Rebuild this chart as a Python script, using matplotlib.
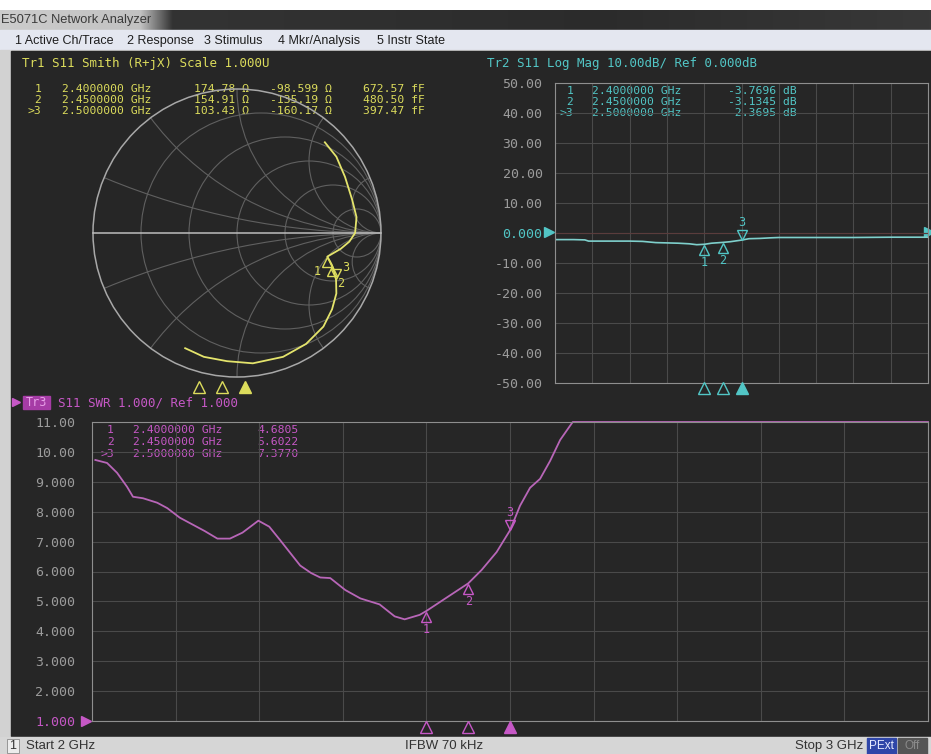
import numpy as np
import matplotlib.pyplot as plt
from matplotlib.patches import Rectangle, Circle
from matplotlib.transforms import offset_copy

W, H = 931, 754
MONO = 'DejaVu Sans Mono'
SANS = 'Liberation Sans'
NARROW = ['Liberation Sans Narrow', 'Liberation Sans']

BG = '#262626'
GRID = '#4a4a4a'
SGRID = '#606060'
FRAME = '#8e8e8e'
TICK = '#9c9c9c'
YEL = '#dcdc5c'
CYA = '#52c6c6'
MAG = '#c658c6'
FS = 8.2

# marker readouts (1, 2, >3)
mkr_freq = [2.40, 2.45, 2.50]
mkr_res = [174.78, 154.91, 103.43]
mkr_reac = [-98.599, -135.19, -160.17]
mkr_cap = [672.57, 480.50, 397.47]
mkr_db = [-3.7696, -3.1345, -2.3695]
mkr_swr = [4.6805, 5.6022, 7.3770]
z0 = 50.0

# Tr1 smith trace as reflection coefficient
smith_re = [0.61, 0.69, 0.75, 0.80, 0.83, 0.82, 0.78, 0.72, 0.66, 0.627, 0.645,
            0.660, 0.675, 0.688, 0.69, 0.66, 0.60, 0.48, 0.32, 0.11, -0.07, -0.23, -0.36]
smith_im = [0.63, 0.53, 0.39, 0.23, 0.11, 0.0, -0.06, -0.11, -0.145, -0.164, -0.195,
            -0.224, -0.27, -0.326, -0.42, -0.53, -0.65, -0.77, -0.86, -0.905, -0.89, -0.86, -0.80]

# Tr2 log mag trace
lm_freq = [2.00, 2.05, 2.08, 2.09, 2.15, 2.20, 2.235, 2.27, 2.30, 2.33, 2.36, 2.38,
           2.40, 2.42, 2.45, 2.47, 2.50, 2.52, 2.55, 2.58, 2.60, 2.70, 2.80, 2.90, 3.00]
lm_db = [-2.2, -2.2, -2.3, -2.7, -2.7, -2.7, -2.8, -3.2, -3.3, -3.4, -3.6, -3.9,
         -3.77, -3.4, -3.13, -2.9, -2.37, -1.9, -1.8, -1.6, -1.5, -1.5, -1.5, -1.4, -1.4]

# Tr3 SWR trace
swr_freq = [2.004, 2.018, 2.030, 2.042, 2.049, 2.061, 2.078, 2.090, 2.105, 2.121,
            2.135, 2.150, 2.165, 2.180, 2.199, 2.212, 2.225, 2.249, 2.262, 2.273,
            2.285, 2.303, 2.321, 2.344, 2.362, 2.374, 2.392, 2.400, 2.420, 2.450,
            2.466, 2.484, 2.500, 2.512, 2.524, 2.536, 2.548, 2.560, 2.575, 2.600, 3.000]
swr_val = [9.73, 9.63, 9.3, 8.83, 8.5, 8.45, 8.3, 8.12, 7.8, 7.56,
           7.35, 7.1, 7.1, 7.3, 7.7, 7.5, 7.05, 6.2, 5.95, 5.8,
           5.78, 5.38, 5.1, 4.9, 4.5, 4.4, 4.55, 4.6805, 5.05, 5.6022,
           6.05, 6.65, 7.377, 8.2, 8.8, 9.1, 9.7, 10.4, 11.0, 11.0, 11.0]

lm_ticks = [50, 40, 30, 20, 10, 0, -10, -20, -30, -40, -50]
lm_labels = ['50.00', '40.00', '30.00', '20.00', '10.00', '0.000',
             '-10.00', '-20.00', '-30.00', '-40.00', '-50.00']
swr_ticks = [11, 10, 9, 8, 7, 6, 5, 4, 3, 2, 1]
swr_labels = ['11.00', '10.00', '9.000', '8.000', '7.000', '6.000',
              '5.000', '4.000', '3.000', '2.000', '1.000']

menu_items = ['1 Active Ch/Trace', '2 Response', '3 Stimulus', '4 Mkr/Analysis', '5 Instr State']
menu_x = [15, 127, 204, 278, 377]

fig = plt.figure(figsize=(W / 100, H / 100), dpi=100, facecolor='white')
bg = fig.add_axes([0, 0, 1, 1])
bg.axis('off')

# window chrome
cols = np.arange(W)
shade = np.interp(cols, [0, 140, 172, 600, W], [0.80, 0.76, 0.20, 0.17, 0.22])
bg.imshow(np.dstack([shade, shade, shade]), extent=(0, W, 30, 10), aspect='auto')
bg.add_patch(Rectangle((0, 30), W, 20, color='#e4e7f0'))
bg.add_patch(Rectangle((0, 50), W, 687, color='#d2d2d2'))
bg.add_patch(Rectangle((11, 51), W - 11, 685, color=BG))
bg.add_patch(Rectangle((0, 737), W, 17, color='#d6d6d6'))
bg.text(1, 20, 'E5071C Network Analyzer', family=SANS, size=9.3, color='#3a3a3a', va='center')
for t, x in zip(menu_items, menu_x):
    bg.text(x, 41, t, family=SANS, size=9.0, color='#1e1e1e', va='center')

# status bar
bg.add_patch(Rectangle((7, 739), 12, 14, fc='#ececec', ec='#8a8a8a', lw=0.6))
bg.text(13, 746, '1', family=NARROW, size=9, color='#333333', ha='center', va='center')
bg.text(26, 746, 'Start 2 GHz', family=NARROW, size=9.5, color='#333333', va='center')
bg.text(444, 746, 'IFBW 70 kHz', family=NARROW, size=9.5, color='#333333', va='center', ha='center')
bg.text(863, 746, 'Stop 3 GHz', family=NARROW, size=9.5, color='#333333', va='center', ha='right')
bg.add_patch(Rectangle((867, 738), 29, 16, color='#2f46a8'))
bg.text(881.5, 746, 'PExt', family=NARROW, size=8.5, color='#e8ecff', va='center', ha='center')
bg.add_patch(Rectangle((898, 738), 29, 16, color='#555555'))
bg.text(912.5, 746, 'Off', family=NARROW, size=8.5, color='#8a8a8a', va='center', ha='center')

# trace headers
bg.text(22, 63, 'Tr1 S11 Smith (R+jX) Scale 1.000U', family=MONO, size=9, color=YEL, va='center')
bg.text(487, 64, 'Tr2 S11 Log Mag 10.00dB/ Ref 0.000dB', family=MONO, size=9, color=CYA, va='center')
bg.plot(16, 402, marker='>', ms=6, color=MAG)
bg.add_patch(Rectangle((23, 396), 27, 13, color='#a63ca6'))
bg.text(36.5, 402.5, 'Tr3', family=MONO, size=8.5, color='#e8a0e8', va='center', ha='center')
bg.text(58, 403, 'S11 SWR 1.000/ Ref 1.000', family=MONO, size=9, color=MAG, va='center')

# marker readout tables
names = ['1', '2', '>3']
for i in range(3):
    y = [88.5, 100, 111.5][i]
    bg.text(41, y, names[i], family=MONO, size=FS, color=YEL, va='center', ha='right')
    bg.text(62, y, f'{mkr_freq[i]:.7f} GHz', family=MONO, size=FS, color=YEL, va='center')
    bg.text(249, y, f'{mkr_res[i]:.2f} \u03a9', family=MONO, size=FS, color=YEL, va='center', ha='right')
    bg.text(332, y, f'{mkr_reac[i]:.5g} \u03a9', family=MONO, size=FS, color=YEL, va='center', ha='right')
    bg.text(425, y, f'{mkr_cap[i]:.2f} fF', family=MONO, size=FS, color=YEL, va='center', ha='right')

    y = [90.5, 102, 113.5][i]
    bg.text(573, y, names[i], family=MONO, size=FS, color=CYA, va='center', ha='right')
    bg.text(592, y, f'{mkr_freq[i]:.7f} GHz', family=MONO, size=FS, color=CYA, va='center')
    bg.text(797, y, f'{mkr_db[i]:.4f} dB', family=MONO, size=FS, color=CYA, va='center', ha='right')

    y = [430, 442, 454][i]
    bg.text(114, y, names[i], family=MONO, size=FS, color=MAG, va='center', ha='right')
    bg.text(133, y, f'{mkr_freq[i]:.7f} GHz', family=MONO, size=FS, color=MAG, va='center')
    bg.text(257, y, f'{mkr_swr[i]:.4f}', family=MONO, size=FS, color=MAG, va='center')

bg.set_xlim(0, W)
bg.set_ylim(H, 0)


def box(x0, y0, x1, y1):
    return fig.add_axes([x0 / W, 1 - y1 / H, (x1 - x0) / W, (y1 - y0) / H])


def stim_strip(x0, x1, y, color):
    ax = box(x0, y - 6, x1, y + 6)
    ax.set_xlim(2, 3)
    ax.set_ylim(0, 1)
    ax.axis('off')
    for k, f in enumerate(mkr_freq):
        ax.plot(f, 0.5, marker='^', ms=8, color=color, mfc=color if k == 2 else 'none',
                mew=1, clip_on=False)


def mark_trace(ax, freqs, vals, color, label_dx=(0, 0, 0), label_dy=(-13, -13, 13)):
    for k, (f, v) in enumerate(zip(freqs, vals)):
        up = k == 2
        tr = offset_copy(ax.transData, fig=fig, y=4 if up else -4, units='points')
        ax.plot(f, v, marker='v' if up else '^', ms=7, mfc='none', mec=color, mew=1,
                transform=tr, clip_on=False)
        ax.annotate(str(k + 1), (f, v), xytext=(label_dx[k], label_dy[k]),
                    textcoords='offset points', ha='center', va='center',
                    family=MONO, size=8.5, color=color)


# --- Tr1 Smith chart ---
sm = box(93, 89, 381, 377)
sm.set_xlim(-1, 1)
sm.set_ylim(-1, 1)
sm.axis('off')
edge = Circle((0, 0), 1, transform=sm.transData)
for r in [0.2, 0.5, 1, 2, 5]:
    c = Circle((r / (1 + r), 0), 1 / (1 + r), fill=False, ec=SGRID, lw=0.8)
    sm.add_patch(c)
    c.set_clip_path(edge)
for xv in [0.2, 0.5, 1, 2, 5]:
    for s in (1, -1):
        c = Circle((1, s / xv), 1 / xv, fill=False, ec=SGRID, lw=0.8)
        sm.add_patch(c)
        c.set_clip_path(edge)
sm.add_patch(Circle((0, 0), 1, fill=False, ec='#a8a8a8', lw=1.1, clip_on=False))
sm.plot([-1, 1], [0, 0], color='#bdbdbd', lw=1.1, clip_on=False)
sm.plot(smith_re, smith_im, color='#e4e46c', lw=1.3)
zn = (np.array(mkr_res) + 1j * np.array(mkr_reac)) / z0
gam = (zn - 1) / (zn + 1)
mark_trace(sm, gam.real, gam.imag, YEL, label_dx=(-7, 6, 7), label_dy=(-11, -13, 9))
stim_strip(15, 475, 387, YEL)

# --- Tr2 Log Mag ---
lm = box(555, 83, 928, 383)
lm.set_facecolor('none')
lm.set_xlim(2, 3)
lm.set_ylim(-50, 50)
lm.set_xticks(np.linspace(2, 3, 11))
lm.set_yticks(lm_ticks)
lm.set_yticklabels(lm_labels)
lm.tick_params(length=0, labelbottom=False, pad=9, labelsize=9.5, labelcolor=TICK)
for lab in lm.get_yticklabels():
    lab.set_family(MONO)
    if lab.get_text() == '0.000':
        lab.set_color(CYA)
lm.grid(True, color=GRID, lw=0.8)
for sp in lm.spines.values():
    sp.set_color(FRAME)
lm.axhline(0, color='#5a3c3c', lw=0.8)
lm.plot(lm_freq, lm_db, color='#7fd0cc', lw=1.2)
mark_trace(lm, mkr_freq, mkr_db, CYA)
bg.plot(549, 232, marker='>', ms=7, color=CYA)
bg.plot(929, 232, marker='>', ms=7, color=CYA, clip_on=False)
stim_strip(555, 928, 388, CYA)

# --- Tr3 SWR ---
sw = box(92, 422, 928, 721)
sw.set_facecolor('none')
sw.set_xlim(2, 3)
sw.set_ylim(1, 11)
sw.set_xticks(np.linspace(2, 3, 11))
sw.set_yticks(swr_ticks)
sw.set_yticklabels(swr_labels)
sw.tick_params(length=0, labelbottom=False, pad=12, labelsize=9.5, labelcolor=TICK)
for lab in sw.get_yticklabels():
    lab.set_family(MONO)
    if lab.get_text() == '1.000':
        lab.set_color(MAG)
sw.grid(True, color=GRID, lw=0.8)
for sp in sw.spines.values():
    sp.set_color(FRAME)
sw.plot(swr_freq, swr_val, color='#b866b8', lw=1.3, clip_on=False)
mark_trace(sw, mkr_freq, mkr_swr, MAG)
bg.plot(86, 721, marker='>', ms=7, color=MAG)
stim_strip(92, 928, 727, MAG)

fig.savefig('out.png', dpi=100, facecolor='white')
